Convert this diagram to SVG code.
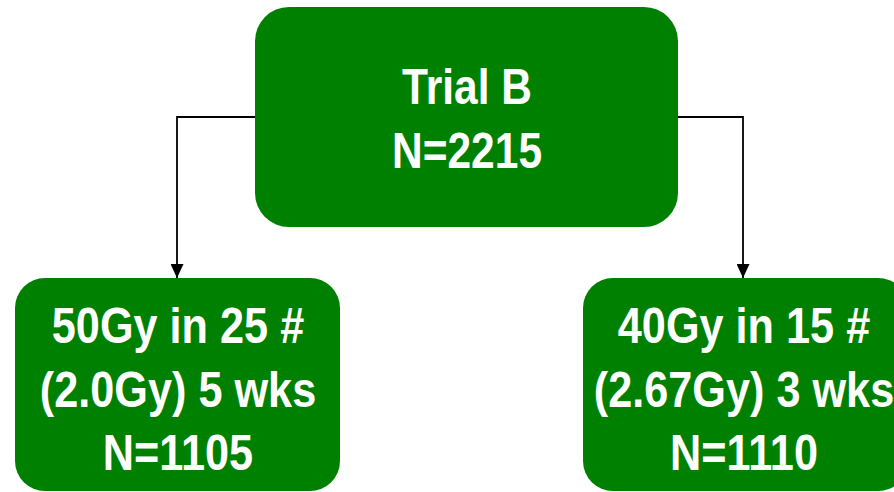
<svg xmlns="http://www.w3.org/2000/svg" width="894" height="492" viewBox="0 0 894 492">
<defs>
<style>
.box{fill:#008000;}
.t{fill:#ffffff;font-family:"Liberation Sans",Arial,sans-serif;font-weight:bold;font-size:50px;text-anchor:middle;}
.c{fill:none;stroke:#000000;stroke-width:1.8;}
</style>
<marker id="arr" viewBox="0 0 14 13" refX="14" refY="6.5" markerWidth="14" markerHeight="13" markerUnits="userSpaceOnUse" orient="auto">
<path d="M0,0 L14,6.5 L0,13 Z" fill="#000000"/>
</marker>
</defs>
<rect width="894" height="492" fill="#ffffff"/>
<g id="connectors">
<path class="c" d="M256,117 H177 V278" marker-end="url(#arr)"/>
<path class="c" d="M677,117 H743 V278" marker-end="url(#arr)"/>
</g>
<g id="trialB">
<rect class="box" x="255" y="7" width="423" height="220" rx="34" ry="34"/>
<text class="t" transform="translate(467,104) scale(0.85,1)">Trial B</text>
<text class="t" transform="translate(467,168) scale(0.85,1)">N=2215</text>
</g>
<g id="arm50">
<rect class="box" x="15" y="278" width="325" height="213" rx="30" ry="30"/>
<text class="t" transform="translate(178,343) scale(0.865,1)">50Gy in 25 #</text>
<text class="t" transform="translate(178,407) scale(0.865,1)">(2.0Gy) 5 wks</text>
<text class="t" transform="translate(178,470) scale(0.865,1)">N=1105</text>
</g>
<g id="arm40">
<rect class="box" x="583" y="278" width="325" height="213" rx="30" ry="30"/>
<text class="t" transform="translate(744,343) scale(0.865,1)">40Gy in 15 #</text>
<text class="t" transform="translate(744,407) scale(0.865,1)">(2.67Gy) 3 wks</text>
<text class="t" transform="translate(744,470) scale(0.865,1)">N=1110</text>
</g>
</svg>
